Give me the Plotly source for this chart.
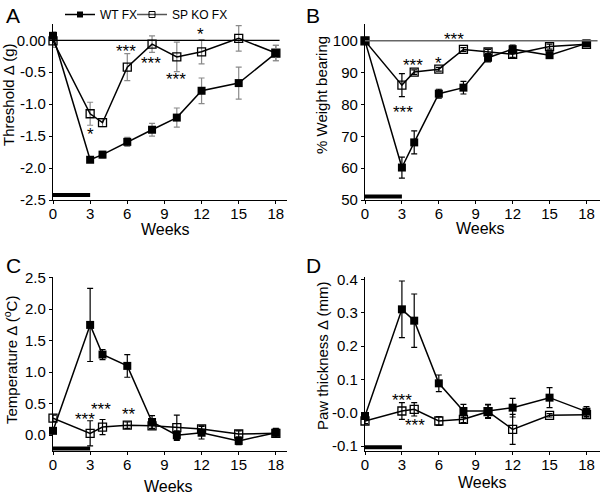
import plotly.graph_objects as go

weeks = [0, 3, 4, 6, 8, 10, 12, 15, 18]

# Panel A: Threshold change (g)
a_wt = [0.07, -1.87, -1.79, -1.59, -1.40, -1.21, -0.79, -0.67, -0.20]
a_wt_err = [0.06, 0.04, 0.05, 0.07, 0.10, 0.15, 0.20, 0.25, 0.12]
a_ko = [-0.01, -1.15, -1.29, -0.42, -0.06, -0.26, -0.18, 0.03, -0.20]
a_ko_err = [0.10, 0.18, 0.06, 0.21, 0.13, 0.23, 0.19, 0.20, 0.12]

# Panel B: % weight bearing
b_wt = [100, 60.2, 68.1, 83.4, 85.3, 94.7, 97.4, 95.5, 99.2]
b_wt_err = [0.5, 3.3, 3.6, 1.4, 2.0, 1.3, 1.3, 1.0, 0.5]
b_ko = [100, 86.1, 90.2, 91.1, 97.3, 96.5, 95.8, 98.2, 98.9]
b_ko_err = [0.5, 3.6, 0.7, 0.6, 0.6, 0.8, 1.0, 0.8, 0.5]

# Panel C: temperature change (C)
c_wt = [0.07, 1.75, 1.28, 1.10, 0.21, 0.0, 0.04, -0.09, 0.04]
c_wt_err = [0.03, 0.58, 0.08, 0.18, 0.10, 0.07, 0.10, 0.06, 0.07]
c_ko = [0.27, 0.03, 0.13, 0.16, 0.15, 0.12, 0.10, 0.02, 0.03]
c_ko_err = [0.05, 0.20, 0.12, 0.05, 0.05, 0.20, 0.05, 0.05, 0.06]

# Panel D: paw thickness change (mm)
d_wt = [-0.01, 0.31, 0.276, 0.088, 0.005, 0.005, 0.015, 0.045, 0.003]
d_wt_err = [0.008, 0.085, 0.08, 0.025, 0.02, 0.02, 0.028, 0.03, 0.015]
d_ko = [-0.025, 0.005, 0.01, -0.025, -0.02, 0.003, -0.05, -0.008, -0.006]
d_ko_err = [0.008, 0.025, 0.02, 0.013, 0.01, 0.02, 0.045, 0.005, 0.01]

x_ticks = [0, 3, 6, 9, 12, 15, 18]
a_ticks = [0, -0.5, -1.0, -1.5, -2.0, -2.5]
a_ticktext = ["0.00", "-0.5", "-1.0", "-1.5", "-2.0", "-2.5"]
b_ticks = [100, 90, 80, 70, 60, 50]
c_ticks = [0, 0.5, 1.0, 1.5, 2.0, 2.5]
c_ticktext = ["0.0", "0.5", "1.0", "1.5", "2.0", "2.5"]
d_ticks = [0.4, 0.3, 0.2, 0.1, 0.0, -0.1]
d_ticktext = ["0.4", "0.3", "0.2", "0.1", "-0.0", "-0.1"]

# significance labels: (panel, x, y, text)
stars = [
    (1, 3.0, -1.42, "*"), (1, 5.9, -0.13, "***"), (1, 7.9, -0.31, "***"),
    (1, 9.9, -0.57, "***"), (1, 11.9, 0.13, "*"), (1, 14.9, 0.32, "*"),
    (2, 7.2, 101.4, "***"), (2, 3.9, 93.2, "***"), (2, 6.0, 93.7, "*"), (2, 3.1, 78.4, "***"),
    (3, 2.6, 0.29, "***"), (3, 3.9, 0.45, "***"), (3, 6.1, 0.37, "**"),
    (4, 3.0, 0.047, "***"), (4, 4.1, -0.03, "***"),
]

FONT = "Liberation Sans, Arial, sans-serif"
W, H = 600, 494

fig = go.Figure()

panels = [
    (1, a_wt, a_wt_err, a_ko, a_ko_err, "#8a8a8a"),
    (2, b_wt, b_wt_err, b_ko, b_ko_err, "black"),
    (3, c_wt, c_wt_err, c_ko, c_ko_err, "black"),
    (4, d_wt, d_wt_err, d_ko, d_ko_err, "black"),
]

for idx, wt, wte, ko, koe, ecol in panels:
    xa = "x" if idx == 1 else f"x{idx}"
    ya = "y" if idx == 1 else f"y{idx}"
    fig.add_trace(go.Scatter(
        x=weeks, y=ko, xaxis=xa, yaxis=ya, mode="lines+markers",
        name="SP KO FX", showlegend=False,
        line=dict(color="black", width=1.5),
        marker=dict(symbol="square-open", size=8, color="black", line=dict(width=1.3)),
        error_y=dict(type="data", array=koe, color=ecol, thickness=1.2, width=3),
        cliponaxis=False,
    ))
    fig.add_trace(go.Scatter(
        x=weeks, y=wt, xaxis=xa, yaxis=ya, mode="lines+markers",
        name="WT FX", showlegend=False,
        line=dict(color="black", width=1.5),
        marker=dict(symbol="square", size=8, color="black"),
        error_y=dict(type="data", array=wte, color=ecol, thickness=1.2, width=3),
        cliponaxis=False,
    ))

# legend-only traces (one legend box each, to keep them close together)
fig.add_trace(go.Scatter(x=[None], y=[None], mode="lines+markers", name="WT FX", legend="legend",
                         line=dict(color="black", width=1.5),
                         marker=dict(symbol="square", size=6, color="black")))
fig.add_trace(go.Scatter(x=[None], y=[None], mode="lines+markers", name="SP KO FX", legend="legend2",
                         line=dict(color="#555", width=1.5),
                         marker=dict(symbol="square-open", size=6, color="black")))

def px2x(p):
    return p / W

def px2y(p):
    return 1 - p / H

axis_common = dict(showline=True, linecolor="black", linewidth=1.2, ticks="outside",
                   ticklen=3, tickcolor="black", showgrid=False, zeroline=False,
                   automargin=False,
                   tickfont=dict(family=FONT, size=15, color="black"))

dom_x_left = [px2x(53), px2x(287)]
dom_x_right = [px2x(365), 1.0]
dom_y_top = [px2y(200), px2y(24)]
dom_y_bot = [px2y(451), px2y(277)]

xstand = -3
fig.update_layout(
    xaxis=dict(domain=dom_x_left, range=[0, 18.9], tickvals=x_ticks, anchor="y", ticklabelstandoff=xstand, **axis_common),
    yaxis=dict(domain=dom_y_top, range=[-2.5, 0.255], tickvals=a_ticks, ticktext=a_ticktext, anchor="x", **axis_common),
    xaxis2=dict(domain=dom_x_right, range=[0, 19.1], tickvals=x_ticks, anchor="y2", ticklabelstandoff=xstand, **axis_common),
    yaxis2=dict(domain=dom_y_top, range=[50, 105.3], tickvals=b_ticks, anchor="x2", **axis_common),
    xaxis3=dict(domain=dom_x_left, range=[0, 18.9], tickvals=x_ticks, anchor="y3", ticklabelstandoff=xstand, **axis_common),
    yaxis3=dict(domain=dom_y_bot, range=[-0.25, 2.51], tickvals=c_ticks, ticktext=c_ticktext, anchor="x3", **axis_common),
    xaxis4=dict(domain=dom_x_right, range=[0, 19.1], tickvals=x_ticks, anchor="y4", ticklabelstandoff=xstand, **axis_common),
    yaxis4=dict(domain=dom_y_bot, range=[-0.115, 0.407], tickvals=d_ticks, ticktext=d_ticktext, anchor="x4", **axis_common),
)

# reference lines and treatment bars
fig.add_shape(type="line", xref="x", yref="y", x0=0, x1=18.3, y0=0, y1=0, line=dict(color="black", width=1.2))
fig.add_shape(type="line", xref="x2", yref="y2", x0=0, x1=18.9, y0=100, y1=100, line=dict(color="#666", width=1.5))
fig.add_shape(type="line", xref="x", yref="y", x0=0, x1=3, y0=-2.42, y1=-2.42, line=dict(color="black", width=4))
fig.add_shape(type="line", xref="x2", yref="y2", x0=0, x1=3, y0=51.1, y1=51.1, line=dict(color="black", width=4))
fig.add_shape(type="line", xref="x3", yref="y3", x0=0, x1=3, y0=-0.21, y1=-0.21, line=dict(color="black", width=4))
fig.add_shape(type="line", xref="x4", yref="y4", x0=0, x1=3, y0=-0.104, y1=-0.104, line=dict(color="black", width=4))

annotations = []
for p, sx, sy, t in stars:
    xr = "x" if p == 1 else f"x{p}"
    yr = "y" if p == 1 else f"y{p}"
    annotations.append(dict(x=sx, y=sy, xref=xr, yref=yr, text=t, showarrow=False, yshift=-3,
                            font=dict(family=FONT, size=17, color="black")))

# panel letters
for letter, lx, ly in [("A", 4, 16), ("B", 304, 16), ("C", 4, 265), ("D", 304, 265)]:
    annotations.append(dict(x=px2x(lx), y=px2y(ly), xref="paper", yref="paper", text=letter,
                            showarrow=False, xanchor="left", yanchor="middle",
                            font=dict(family=FONT, size=21, color="black")))

# axis titles
ytitles = [("Threshold Δ (g)", 9, 95), ("% Weight bearing", 322, 95),
           ("Temperature Δ (<sup>o</sup>C)", 10, 360), ("Paw thickness Δ (mm)", 322, 356)]
for t, tx, ty in ytitles:
    annotations.append(dict(x=px2x(tx), y=px2y(ty), xref="paper", yref="paper", text=t,
                            showarrow=False, textangle=-90, xanchor="center", yanchor="middle",
                            font=dict(family=FONT, size=15, color="black")))
for tx, ty in [(165, 229), (480, 228), (168, 486), (482, 482)]:
    annotations.append(dict(x=px2x(tx), y=px2y(ty), xref="paper", yref="paper", text="Weeks",
                            showarrow=False, xanchor="center", yanchor="middle",
                            font=dict(family=FONT, size=16, color="black")))

legend_common = dict(orientation="h", y=1.0, xanchor="left", yanchor="top",
                     font=dict(family=FONT, size=12, color="black"), itemwidth=30,
                     bgcolor="rgba(0,0,0,0)")

fig.update_layout(
    width=W, height=H, margin=dict(l=0, r=0, t=0, b=0, autoexpand=False),
    paper_bgcolor="white", plot_bgcolor="white",
    annotations=annotations,
    showlegend=True,
    legend=dict(x=px2x(60), **legend_common),
    legend2=dict(x=px2x(132), **legend_common),
    font=dict(family=FONT),
)

fig.write_html("out.html", config={"displayModeBar": False},
               post_script="document.body.style.margin='0';document.body.style.overflow='hidden';")
